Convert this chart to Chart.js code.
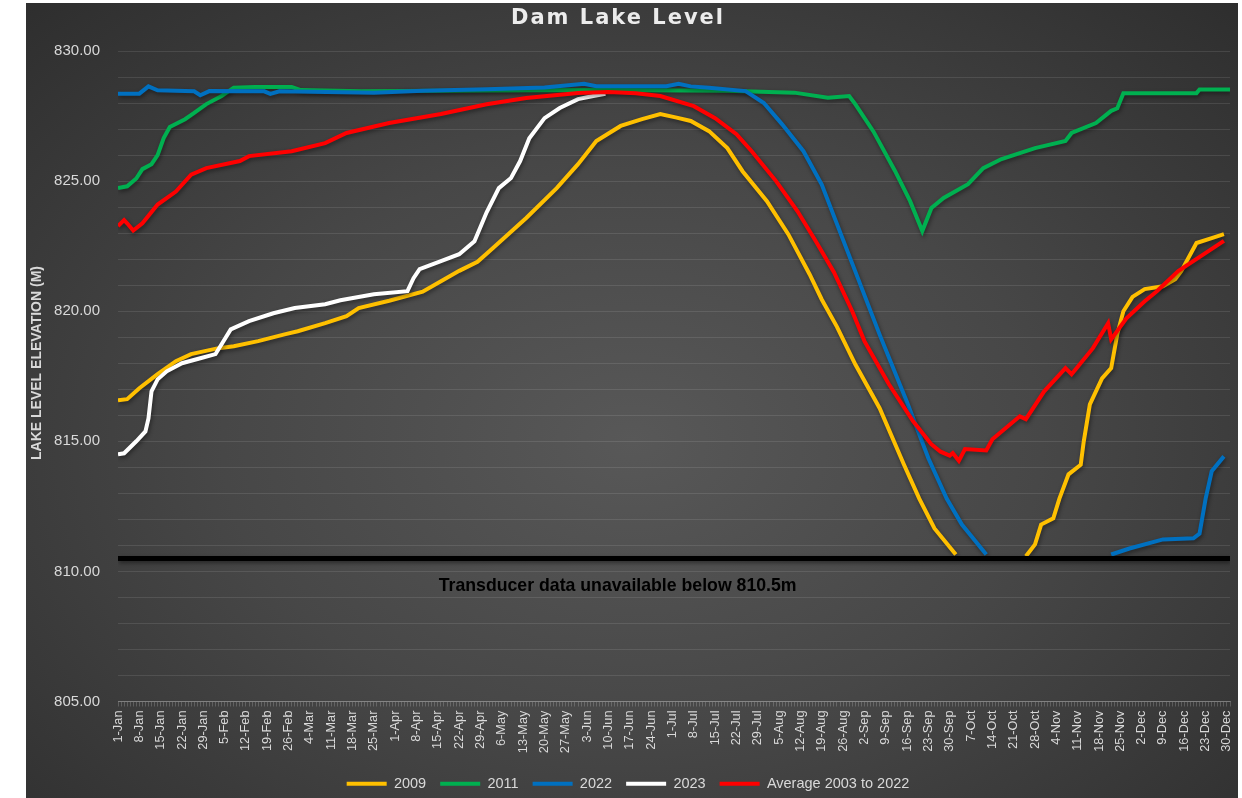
<!DOCTYPE html>
<html lang="en">
<head>
<meta charset="UTF-8">
<title>Dam Lake Level</title>
<script src="https://cdn.jsdelivr.net/npm/chart.js"></script>
<style>
    body {
        margin: 0;
        background: #ffffff;
        overflow: hidden;
    }
    .frame {
        position: absolute;
        left: 26px;
        top: 3px;
        width: 1212px;
        height: 798px;
        background: radial-gradient(ellipse 75% 80% at 50% 55%, #585858 0%, #474747 45%, #2c2c2c 100%);
    }
</style>
</head>
<body>
<div class="frame">
    <canvas id="levelChart"></canvas>
</div>

<script>
// weekly tick labels (leap-year calendar, day 0 = 1-Jan)
const weekLabels = ['1-Jan','8-Jan','15-Jan','22-Jan','29-Jan','5-Feb','12-Feb','19-Feb','26-Feb','4-Mar','11-Mar',
    '18-Mar','25-Mar','1-Apr','8-Apr','15-Apr','22-Apr','29-Apr','6-May','13-May','20-May','27-May','3-Jun','10-Jun',
    '17-Jun','24-Jun','1-Jul','8-Jul','15-Jul','22-Jul','29-Jul','5-Aug','12-Aug','19-Aug','26-Aug','2-Sep','9-Sep',
    '16-Sep','23-Sep','30-Sep','7-Oct','14-Oct','21-Oct','28-Oct','4-Nov','11-Nov','18-Nov','25-Nov','2-Dec','9-Dec',
    '16-Dec','23-Dec','30-Dec'];

// day of year / level (m); null = no transducer data
const days2009 = [0,3,7,13,19,24,33,38,46,55,59,68,75,79,89,100,106,112,118,123,134,144,151,157,165,172,178,183,188,194,
    200,205,213,220,227,231,236,242,250,258,263,268,275,285,298,301,303,307,309,312,316,317,319,323,326,328,330,333,337,343,347,349,354,359,363];
const lvl2009 = [816.58,816.62,817.04,817.58,818.08,818.35,818.58,818.65,818.85,819.12,819.23,819.54,819.81,820.12,820.4,820.75,
    821.15,821.55,821.9,822.42,823.58,824.73,825.65,826.54,827.12,827.38,827.58,827.45,827.31,826.92,
    826.27,825.38,824.23,822.96,821.42,820.45,819.4,817.96,816.27,814.1,812.8,811.65,810.65,null,810.58,811.04,811.8,812.04,812.8,813.73,814.1,815.0,816.42,817.42,817.81,819.12,820.0,820.55,820.85,820.96,821.23,821.54,822.62,822.81,822.96];

const days2011 = [0,3,6,8,11,13,15,17,22,25,29,34,38,45,57,60,80,120,160,200,222,233,240,242,248,255,260,264,267,271,279,284,290,301,311,313,321,326,328,330,354,355,365];
const lvl2011 = [824.73,824.8,825.1,825.46,825.65,826.0,826.65,827.08,827.38,827.62,827.96,828.27,828.59,828.62,828.62,828.5,828.45,828.48,828.5,828.47,
    828.4,828.2,828.27,827.96,826.9,825.4,824.23,823.08,823.97,824.35,824.88,825.5,825.85,826.27,826.54,826.85,827.23,827.7,827.8,828.38,828.38,828.52,828.52];

const days2022 = [0,7,10,13,25,27,30,48,50,53,84,100,121,140,153,157,180,184,188,194,206,212,218,225,231,238,242,250,259,266,272,277,285,300,326,332,343,353,355,357,359,363];
const lvl2022 = [828.36,828.36,828.64,828.49,828.45,828.3,828.46,828.45,828.35,828.45,828.4,828.47,828.53,828.6,828.74,828.65,828.65,828.74,828.64,828.59,
    828.46,828.0,827.18,826.15,824.87,822.74,821.53,819.1,816.5,814.35,812.8,811.8,810.65,null,810.65,810.88,811.23,811.27,811.45,812.8,813.85,814.42];

const days2023 = [0,2,6,9,10,11,13,16,21,27,32,34,37,43,51,58,68,73,84,95,97,99,106,112,117,121,125,129,132,135,140,145,151,156,160];
const lvl2023 = [814.5,814.54,815.0,815.38,815.88,816.92,817.38,817.69,818.0,818.19,818.35,818.73,819.3,819.62,819.92,820.12,820.27,820.42,820.65,820.77,
    821.27,821.62,821.92,822.19,822.69,823.8,824.73,825.12,825.77,826.65,827.42,827.81,828.15,828.27,828.36];

const daysAvg = [0,2,3,5,8,13,19,24,29,40,43,57,68,75,89,106,121,134,151,161,170,178,189,196,203,208,216,223,229,235,241,245,253,261,267,270,273,274,276,278,285,287,296,298,304,311,313,320,325,326,331,337,341,348,363];
const lvlAvg = [823.27,823.5,823.38,823.1,823.38,824.1,824.6,825.25,825.5,825.77,825.96,826.15,826.46,826.85,827.23,827.58,827.95,828.19,828.39,828.42,828.38,828.27,827.88,827.42,826.8,826.15,825.0,823.85,822.7,821.5,820.0,818.85,817.2,815.77,814.88,814.6,814.45,814.55,814.25,814.7,814.65,815.08,815.96,815.85,816.92,817.81,817.58,818.58,819.54,818.92,819.73,820.38,820.77,821.54,822.7];

const cutoffDays = [0, 365];
const cutoffLevel = [810.5, 810.5];
const cutoffNote = 'Transducer data unavailable below 810.5m';
const notePos = { day: 164, level: 809.45 };
const chartTitle = 'Dam Lake Level';
const yTitle = 'LAKE LEVEL ELEVATION (M)';

const pts = (xs, ys) => xs.map((d, i) => ({ x: d, y: ys[i] }));

const labelGrey = '#d9d9d9';
const sans = "'Liberation Sans', Arial, sans-serif";

const lineShadow = {
    id: 'lineShadow',
    beforeDatasetDraw(chart) {
        const ctx = chart.ctx;
        ctx.save();
        ctx.shadowColor = 'rgba(0,0,0,0.45)';
        ctx.shadowBlur = 4;
        ctx.shadowOffsetX = 1;
        ctx.shadowOffsetY = 2;
    },
    afterDatasetDraw(chart) {
        chart.ctx.restore();
    }
};

// note under the cut-off line, the spaced-out title and the axis title
const textMarks = {
    id: 'textMarks',
    afterDatasetsDraw(chart) {
        const ctx = chart.ctx;
        const x = chart.scales.x.getPixelForValue(notePos.day);
        const y = chart.scales.y.getPixelForValue(notePos.level);
        ctx.save();
        ctx.font = 'bold 17.7px ' + sans;
        ctx.fillStyle = '#000000';
        ctx.textAlign = 'center';
        ctx.textBaseline = 'middle';
        ctx.fillText(cutoffNote, x, y);

        ctx.font = 'bold 14px ' + sans;
        ctx.fillStyle = labelGrey;
        ctx.translate(11, 360);
        ctx.rotate(-Math.PI / 2);
        ctx.fillText(yTitle, 0, 0);
        ctx.restore();

        ctx.save();
        ctx.font = "bold 21px 'DejaVu Sans', sans-serif";
        ctx.letterSpacing = '2px';
        ctx.fillStyle = '#ececec';
        ctx.textAlign = 'center';
        ctx.textBaseline = 'middle';
        ctx.fillText(chartTitle, 592, 16);
        ctx.restore();
    }
};

const series = (label, color, xs, ys, order) => ({
    label: label,
    data: pts(xs, ys),
    borderColor: color,
    backgroundColor: color,
    borderWidth: 4,
    pointRadius: 0,
    tension: 0,
    fill: false,
    order: order
});

const ctx = document.getElementById('levelChart').getContext('2d');
const levelChart = new Chart(ctx, {
    type: 'line',
    data: {
        datasets: [
            series('2009', '#ffc000', days2009, lvl2009, 5),
            series('2011', '#00b050', days2011, lvl2011, 4),
            series('2022', '#0070c0', days2022, lvl2022, 3),
            series('2023', '#ffffff', days2023, lvl2023, 2),
            series('Average 2003 to 2022', '#ff0000', daysAvg, lvlAvg, 1),
            {
                label: '',
                data: pts(cutoffDays, cutoffLevel),
                borderColor: '#000000',
                borderWidth: 5,
                pointRadius: 0,
                order: 0
            }
        ]
    },
    options: {
        responsive: true,
        maintainAspectRatio: false,
        animation: false,
        layout: { padding: { left: 0, right: 8, top: 48, bottom: 0 } },
        plugins: {
            legend: {
                position: 'bottom',
                labels: {
                    color: labelGrey,
                    font: { family: sans, size: 14.5 },
                    boxWidth: 40,
                    boxHeight: 4,
                    padding: 14,
                    sort: (a, b) => a.datasetIndex - b.datasetIndex,
                    generateLabels(chart) {
                        const items = Chart.defaults.plugins.legend.labels.generateLabels(chart);
                        return items.filter(i => i.text).map(i => Object.assign(i, { lineWidth: 0, fillStyle: i.strokeStyle }));
                    }
                }
            },
            tooltip: { enabled: false }
        },
        scales: {
            x: {
                type: 'linear',
                min: 0,
                max: 365,
                afterFit(scale) {
                    scale.height = 61;
                    scale.paddingLeft = 0;
                    scale.paddingRight = 0;
                },
                grid: { drawOnChartArea: false, drawTicks: true, tickLength: 5, color: 'rgba(255,255,255,0.18)' },
                border: { display: true, color: 'rgba(217,217,217,0.35)' },
                ticks: {
                    stepSize: 1,
                    autoSkip: false,
                    minRotation: 90,
                    maxRotation: 90,
                    padding: 4,
                    color: labelGrey,
                    font: { family: sans, size: 12.8 },
                    callback: (v) => (v % 7 === 0 ? weekLabels[v / 7] : '')
                }
            },
            y: {
                min: 805,
                max: 830,
                afterFit(scale) {
                    scale.width = 92;
                    scale.paddingTop = 0;
                    scale.paddingBottom = 0;
                },
                grid: { color: 'rgba(255,255,255,0.1)', drawTicks: false },
                border: { display: false },
                ticks: {
                    stepSize: 1,
                    padding: 18,
                    color: labelGrey,
                    font: { family: sans, size: 15 },
                    callback: (v) => (v % 5 === 0 ? v.toFixed(2) : '')
                }
            }
        }
    },
    plugins: [lineShadow, textMarks]
});
</script>
</body>
</html>
